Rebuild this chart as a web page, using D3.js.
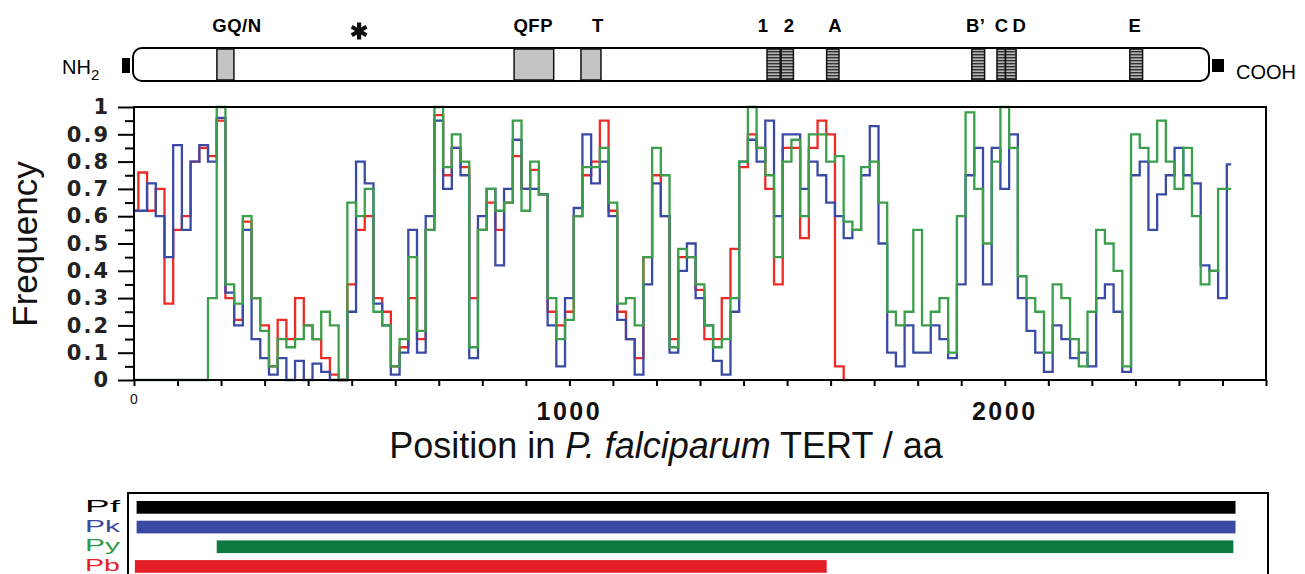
<!DOCTYPE html>
<html>
<head>
<meta charset="utf-8">
<script src="https://cdn.jsdelivr.net/npm/d3@7"></script>
<style>
body { margin: 0; background: #fff; }
text { font-family: "Liberation Sans", Arial, sans-serif; }
.ytick text { font-family: "DejaVu Sans", sans-serif; font-weight: bold; font-size: 21px; letter-spacing: 2px; }
</style>
</head>
<body>
<div id="vis"></div>
<script>
// sampling positions along P. falciparum TERT (aa)
const positions = [0,20,40,60,80,100,120,140,160,180,200,220,240,260,280,300,320,340,360,380,
  400,420,440,460,480,500,520,540,560,580,600,620,640,660,680,700,720,740,760,780,
  800,820,840,860,880,900,920,940,960,980,1000,1020,1040,1060,1080,1100,1120,1140,1160,1180,
  1200,1220,1240,1260,1280,1300,1320,1340,1360,1380,1400,1420,1440,1460,1480,1500,1520,1540,1560,1580,
  1600,1620,1640,1660,1680,1700,1720,1740,1760,1780,1800,1820,1840,1860,1880,1900,1920,1940,1960,1980,
  2000,2020,2040,2060,2080,2100,2120,2140,2160,2180,2200,2220,2240,2260,2280,2300,2320,2340,2360,2380,
  2400,2420,2440,2460,2480,2500,2520]

// P. knowlesi (blue)
const pkFreq = [0.62,0.62,0.72,0.6,0.45,0.86,0.55,0.8,0.86,0.8,
  0.96,0.32,0.2,0.55,0.15,0.08,0.02,0.08,0,0.07,
  0,0.06,0.03,0,0,0.25,0.8,0.72,0.28,0.2,
  0.02,0.1,0.55,0.1,0.6,0.95,0.7,0.85,0.75,0.08,
  0.6,0.7,0.42,0.7,0.88,0.7,0.7,0.68,0.2,0.05,
  0.3,0.63,0.9,0.72,0.8,0.6,0.22,0.15,0.02,0.35,
  0.72,0.6,0.1,0.4,0.5,0.3,0.2,0.07,0.02,0.25,
  0.8,0.88,0.8,0.95,0.6,0.9,0.9,0.7,0.8,0.75,
  0.65,0.6,0.52,0.55,0.75,0.93,0.5,0.1,0.05,0.2,
  0.1,0.1,0.2,0.15,0.08,0.35,0.75,0.85,0.35,0.85,
  0.7,0.9,0.3,0.18,0.1,0.03,0.2,0.15,0.08,0.1,
  0.05,0.3,0.35,0.25,0.03,0.75,0.8,0.55,0.68,0.75,
  0.85,0.75,0.72,0.42,0.4,0.3,0.79]

// P. yoelii (green)
const pyFreq = [0,0,0,0,0,0,0,0,0,0.3,
  1.0,0.35,0.28,0.6,0.3,0.18,0.05,0.15,0.12,0.15,
  0.2,0.15,0.25,0.2,0,0.65,0.6,0.7,0.25,0.2,
  0.05,0.15,0.45,0.18,0.55,1.0,0.78,0.9,0.8,0.12,
  0.55,0.7,0.62,0.65,0.95,0.62,0.8,0.68,0.3,0.15,
  0.22,0.6,0.78,0.78,0.85,0.65,0.28,0.3,0.2,0.45,
  0.85,0.75,0.12,0.48,0.45,0.35,0.2,0.12,0.15,0.3,
  0.8,1.0,0.85,0.75,0.45,0.8,0.88,0.6,0.9,0.9,
  0.8,0.82,0.58,0.55,0.78,0.8,0.65,0.25,0.2,0.25,
  0.55,0.2,0.25,0.3,0.1,0.6,0.98,0.7,0.5,0.8,
  1.0,0.85,0.38,0.3,0.25,0.1,0.35,0.3,0.15,0.05,
  0.25,0.55,0.5,0.4,0.05,0.9,0.85,0.8,0.95,0.8,
  0.7,0.85,0.6,0.35,0.4,0.7,0.7]

// P. berghei (red) - sequence stops ~1600
const pbFreq = [0.62,0.76,0.62,0.7,0.28,0.55,0.6,0.8,0.85,0.82,
  0.95,0.3,0.22,0.58,0.3,0.2,0.05,0.22,0.15,0.3,
  0.2,0.15,0.08,0.02,0,0.35,0.55,0.6,0.3,0.25,
  0.05,0.12,0.3,0.15,0.55,0.97,0.75,0.85,0.78,0.3,
  0.55,0.65,0.55,0.65,0.82,0.7,0.77,0.68,0.25,0.2,
  0.25,0.6,0.75,0.8,0.95,0.62,0.25,0.15,0.08,0.45,
  0.75,0.6,0.15,0.45,0.45,0.33,0.15,0.15,0.3,0.48,
  0.78,0.9,0.85,0.7,0.35,0.85,0.85,0.52,0.85,0.95,
  0.9,0.05,0]

const yTicks = [0,0.1,0.2,0.3,0.4,0.5,0.6,0.7,0.8,0.9,1]
const yTickLabels = ["0","0.1","0.2","0.3","0.4","0.5","0.6","0.7","0.8","0.9","1"]
const xLabelValues = [0,1000,2000]
const xLabels = ["0","1000","2000"]

// domain map of PfTERT
const proteinLength = 2527
const domainNames = ["GQ/N","QFP","T","1","2","A","B\u2019","C","D","E"]
const domainStart = [197,895,1052,1489,1522,1629,1970,2029,2049,2341]
const domainEnd = [237,988,1099,1520,1551,1658,2000,2049,2074,2371]
const domainLabelAt = [244,940,1092,1480,1541,1649,1979,2040,2082,2353]
const domainType = ["grey","grey","grey","motif","motif","motif","motif","motif","motif","motif"]
const asteriskAt = 531

// sequence coverage bars
const species = ["Pf","Pk","Py","Pb"]
const seqStart = [6,6,190,2]
const seqEnd = [2530,2530,2525,1591]
const speciesColours = ["#000000","#3a4aa0","#0f7a3f","#e41f26"]
const labelColours = ["#000000","#3a4aa0","#2f9a48","#e41f26"]

function drawChart(){
    let width = 1305
    let height = 574
    let svg = d3.select("#vis")
        .append("svg")
            .attr("width", width)
            .attr("height", height)

    let x = d3.scaleLinear().domain([0, 2600]).range([134, 1266])
    let y = d3.scaleLinear().domain([0, 1]).range([380, 107])

    // ---- domain diagram ----
    let defs = svg.append("defs")
    let hatch = defs.append("pattern")
        .attr("id", "hatch")
        .attr("patternUnits", "userSpaceOnUse")
        .attr("width", 4).attr("height", 3)
    hatch.append("rect").attr("width", 4).attr("height", 3).attr("fill", "#b4b4b4")
    hatch.append("rect").attr("width", 4).attr("height", 1.4).attr("fill", "#333")

    let dom = d3.scaleLinear().domain([0, proteinLength]).range([133, 1209])
    let top = 48, bot = 81

    svg.append("rect")
        .attr("x", dom(0) - 11).attr("y", 58)
        .attr("width", 8).attr("height", 15).attr("fill", "#000")
    svg.append("rect")
        .attr("x", dom(proteinLength) + 3).attr("y", 59)
        .attr("width", 12).attr("height", 13).attr("fill", "#000")

    svg.append("rect")
        .attr("x", dom(0)).attr("y", top)
        .attr("width", dom(proteinLength) - dom(0)).attr("height", bot - top)
        .attr("rx", 9)
        .attr("fill", "#fff").attr("stroke", "#000").attr("stroke-width", 2)

    let domData = domainNames.map(function(d, i){
        return {name: d, start: domainStart[i], end: domainEnd[i], lab: domainLabelAt[i], type: domainType[i]}
    })
    svg.selectAll(".domBox")
        .data(domData)
        .enter()
        .append("rect")
            .attr("class", "domBox")
            .attr("x", d => dom(d.start))
            .attr("y", top + 1)
            .attr("width", d => dom(d.end) - dom(d.start))
            .attr("height", bot - top - 2)
            .attr("fill", d => d.type == "grey" ? "#c4c4c4" : "url(#hatch)")
            .attr("stroke", "#111")
            .attr("stroke-width", 1.5)
    svg.selectAll(".domLabel")
        .data(domData)
        .enter()
        .append("text")
            .attr("class", "domLabel")
            .attr("x", d => dom(d.lab))
            .attr("y", 32)
            .attr("text-anchor", "middle")
            .attr("font-size", "18.5px")
            .attr("font-weight", "bold")
            .attr("letter-spacing", "0.5px")
            .text(d => d.name)

    // asterisk
    let ax = dom(asteriskAt), ay = 31, ar = 8.5
    let star = svg.append("g").attr("stroke", "#111").attr("stroke-width", 4.2).attr("stroke-linecap", "butt")
    ;[90, 30, -30].forEach(function(a){
        let r = a * Math.PI / 180
        star.append("line")
            .attr("x1", ax - ar * Math.cos(r)).attr("y1", ay - ar * Math.sin(r))
            .attr("x2", ax + ar * Math.cos(r)).attr("y2", ay + ar * Math.sin(r))
    })

    let nh = svg.append("text").attr("x", 62).attr("y", 74).attr("font-size", "20px")
    nh.append("tspan").text("NH")
    nh.append("tspan").attr("font-size", "15px").attr("dy", 6).text("2")
    svg.append("text").attr("x", 1236).attr("y", 79).attr("font-size", "20px").text("COOH")

    // ---- frequency plot ----
    // minor y ticks
    svg.append("g")
        .attr("transform", "translate(134,0)")
        .call(d3.axisLeft(y).tickValues(yTicks.slice(1).map(d => d - 0.05)).tickSize(9).tickFormat(""))
        .call(g => g.select(".domain").remove())
        .selectAll("line").attr("stroke-width", 2)
    svg.append("g")
        .attr("class", "ytick")
        .attr("transform", "translate(134,0)")
        .call(d3.axisLeft(y).tickValues(yTicks).tickSize(16).tickPadding(8).tickFormat((d, i) => yTickLabels[i]))
        .call(g => g.select(".domain").remove())
        .call(g => g.selectAll("line").attr("stroke-width", 2))
        .call(g => g.selectAll("text").attr("fill", "#222").attr("font-size", null).attr("font-family", null))

    // x ticks every 100 aa
    svg.append("g")
        .attr("transform", "translate(0,380)")
        .call(d3.axisBottom(x).ticks(26).tickSize(6).tickFormat(""))
        .call(g => g.select(".domain").remove())
        .selectAll("line").attr("stroke-width", 2)

    svg.selectAll(".xLabel")
        .data(xLabelValues)
        .enter()
        .append("text")
            .attr("class", "xLabel")
            .attr("x", d => x(d))
            .attr("y", (d, i) => i == 0 ? 404 : 420)
            .attr("text-anchor", "middle")
            .attr("font-size", (d, i) => i == 0 ? "14px" : "25px")
            .attr("font-weight", (d, i) => i == 0 ? "normal" : "bold")
            .attr("letter-spacing", (d, i) => i == 0 ? "0px" : "2.5px")
            .attr("fill", "#111")
            .text((d, i) => xLabels[i])

    let line = d3.line()
        .x(d => x(d[0]))
        .y(d => y(d[1]))
        .curve(d3.curveStep)

    let series = [
        {name: "Pb", colour: "#ee2a24", vals: pbFreq},
        {name: "Pk", colour: "#3a4ba6", vals: pkFreq},
        {name: "Py", colour: "#3b9f4b", vals: pyFreq}
    ]
    svg.selectAll(".freqLine")
        .data(series)
        .enter()
        .append("path")
            .attr("class", "freqLine")
            .attr("fill", "none")
            .attr("stroke", d => d.colour)
            .attr("stroke-width", 2.3)
            .attr("d", d => line(d.vals.map((v, i) => [positions[i], v])))

    svg.append("rect")
        .attr("x", x(0)).attr("y", y(1))
        .attr("width", x(2600) - x(0)).attr("height", y(0) - y(1))
        .attr("fill", "none").attr("stroke", "#000").attr("stroke-width", 2)

    svg.append("text")
        .attr("transform", "translate(37,244) rotate(-90)")
        .attr("text-anchor", "middle")
        .attr("font-size", "35px")
        .attr("fill", "#111")
        .text("Frequency")

    let title = svg.append("text")
        .attr("x", 666).attr("y", 458)
        .attr("text-anchor", "middle")
        .attr("font-size", "36px")
        .attr("fill", "#111")
    title.append("tspan").text("Position in ")
    title.append("tspan").attr("font-style", "italic").text("P. falciparum")
    title.append("tspan").text(" TERT / aa")

    // ---- coverage bars ----
    let band = d3.scaleBand().domain(species).range([493, 578.8]).padding(0.355)
    svg.append("rect")
        .attr("x", 128).attr("y", 493)
        .attr("width", 1140).attr("height", 200)
        .attr("fill", "none").attr("stroke", "#000").attr("stroke-width", 2)
    svg.selectAll(".seqBar")
        .data(species)
        .enter()
        .append("rect")
            .attr("class", "seqBar")
            .attr("x", (d, i) => x(seqStart[i]))
            .attr("width", (d, i) => x(seqEnd[i]) - x(seqStart[i]))
            .attr("y", d => band(d) + 1)
            .attr("height", band.bandwidth())
            .attr("fill", (d, i) => speciesColours[i])
    svg.selectAll(".seqLabel")
        .data(species)
        .enter()
        .append("text")
            .attr("class", "seqLabel")
            .attr("x", 85)
            .attr("y", d => Math.min(band(d) + band.bandwidth() / 2 + 5.5, 570.5))
            .attr("font-family", "DejaVu Sans")
            .attr("font-size", "16px")
            .attr("textLength", 35)
            .attr("lengthAdjust", "spacingAndGlyphs")
            .attr("fill", (d, i) => labelColours[i])
            .text(d => d)
}
drawChart()
</script>
</body>
</html>
